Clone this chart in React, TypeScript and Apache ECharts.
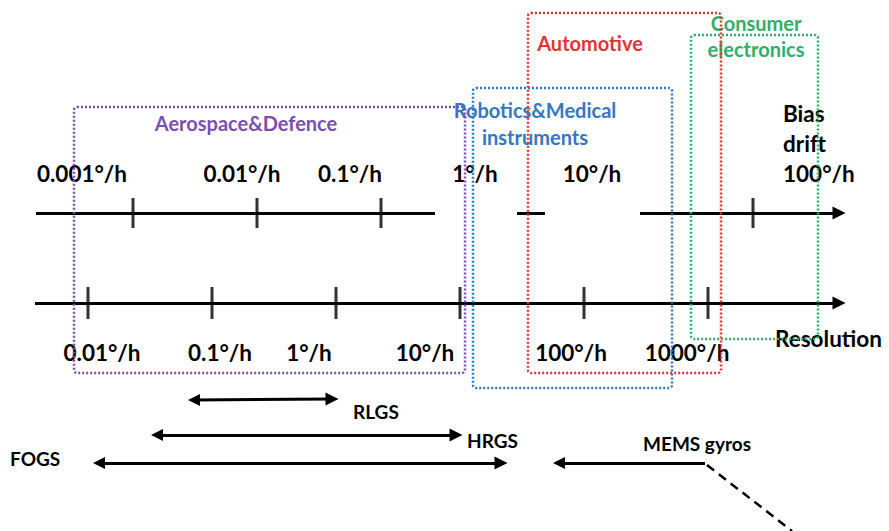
import React, { useEffect, useRef } from "react";
import * as echarts from "echarts";

// ---- data ----
const biasDriftTicks = [0.001, 0.01, 0.1, 100];
const biasDriftLabels = ["0.001°/h", "0.01°/h", "0.1°/h", "1°/h", "10°/h", "100°/h"];
const resolutionTicks = [0.01, 0.1, 1, 10, 100, 1000];
const resolutionLabels = ["0.01°/h", "0.1°/h", "1°/h", "10°/h", "100°/h", "1000°/h"];
const domainNames = ["Aerospace&Defence", "Robotics&Medical\ninstruments", "Automotive", "Consumer\nelectronics"];
const gyroTypes = ["RLGS", "HRGS", "FOGS", "MEMS gyros"];
const axisNames = ["Bias\ndrift", "Resolution"];

// ---- layout (diagram frame units) ----
const W = 889;
const H = 531;
const BIAS_Y = 213;
const RES_Y = 303;
const DECADE = 124;
const resMin = 0.01 * Math.pow(10, -88 / DECADE);
const resMax = 0.01 * Math.pow(10, (W - 88) / DECADE);
const biasMin = 0.001 * Math.pow(10, -133 / DECADE);
const biasMax = 0.001 * Math.pow(10, (W - 133) / DECADE);

const domainColors = ["#7a4fb0", "#3477c2", "#e33434", "#2faf67"];
const domainBoxes = [
  [74, 107, 465, 373],
  [473, 88, 672, 388],
  [528, 13, 721, 373],
  [691, 35, 818, 339],
];

const AXIS_FONT = "bold 22.5px Lato";
const DOMAIN_FONT = "bold 20px Lato";
const GYRO_FONT = "bold 19px Lato";
const INK = "#000";

type T = { text: string; x: number; y: number; align: string; color: string; font: string; lh?: number };

const texts: T[] = [
  ...biasDriftLabels.map((s, i) => ({
    text: s,
    x: [82, 242, 350, 475, 592, 783][i],
    y: 173,
    align: i === 5 ? "left" : "center",
    color: INK,
    font: AXIS_FONT,
  })),
  { text: axisNames[0], x: 783, y: 128, align: "left", color: INK, font: AXIS_FONT, lh: 30 },
  ...resolutionLabels.map((s, i) => ({
    text: s,
    x: [102, 220, 309, 425, 571, 687][i],
    y: 352,
    align: "center",
    color: INK,
    font: AXIS_FONT,
  })),
  { text: axisNames[1], x: 775, y: 338, align: "left", color: INK, font: AXIS_FONT },
  { text: domainNames[0], x: 246, y: 123, align: "center", color: domainColors[0], font: DOMAIN_FONT },
  { text: domainNames[1], x: 535, y: 123, align: "center", color: domainColors[1], font: DOMAIN_FONT, lh: 27 },
  { text: domainNames[2], x: 590, y: 43, align: "center", color: domainColors[2], font: DOMAIN_FONT },
  { text: domainNames[3], x: 756, y: 36, align: "center", color: domainColors[3], font: DOMAIN_FONT, lh: 26 },
  { text: gyroTypes[0], x: 353, y: 411, align: "left", color: INK, font: GYRO_FONT },
  { text: gyroTypes[1], x: 467, y: 440, align: "left", color: INK, font: GYRO_FONT },
  { text: gyroTypes[2], x: 10, y: 458, align: "left", color: INK, font: GYRO_FONT },
  { text: gyroTypes[3], x: 643, y: 443, align: "left", color: INK, font: GYRO_FONT },
];

const App: React.FC = () => {
  const ref = useRef<HTMLDivElement>(null);
  useEffect(() => {
    if (!ref.current) return;
    const chart = echarts.init(ref.current, null, { renderer: "svg" });
    const black = "#000";
    const lineW = 3;
    const option: any = {
      animation: false,
      backgroundColor: "#fff",
      grid: { left: 0, top: 0, right: 0, bottom: 0 },
      xAxis: [
        { type: "value", min: 0, max: W, show: false },
        { type: "log", min: resMin, max: resMax, show: false },
        { type: "log", min: biasMin, max: biasMax, show: false },
      ],
      yAxis: { type: "value", min: 0, max: H, inverse: true, show: false },
      series: [
        {
          type: "lines",
          coordinateSystem: "cartesian2d",
          xAxisIndex: 0,
          symbol: "none",
          lineStyle: { color: black, width: lineW, opacity: 1 },
          data: [
            { coords: [[36, BIAS_Y], [435, BIAS_Y]] },
            { coords: [[517, BIAS_Y], [545, BIAS_Y]] },
          ],
          z: 3,
        },
        {
          type: "lines",
          coordinateSystem: "cartesian2d",
          xAxisIndex: 0,
          symbol: ["none", "triangle"],
          symbolSize: [12, 13],
          lineStyle: { color: black, width: lineW, opacity: 1 },
          data: [
            { coords: [[640, BIAS_Y], [839, BIAS_Y]] },
            { coords: [[35, RES_Y], [839, RES_Y]] },
          ],
          z: 3,
        },
        {
          type: "scatter",
          xAxisIndex: 2,
          symbol: "rect",
          symbolSize: [3, 30],
          itemStyle: { color: black },
          data: biasDriftTicks.map((v) => [v, BIAS_Y]),
          z: 3,
        },
        {
          type: "scatter",
          xAxisIndex: 1,
          symbol: "rect",
          symbolSize: [3, 32],
          itemStyle: { color: black },
          data: resolutionTicks.map((v) => [v, RES_Y]),
          z: 3,
        },
        {
          type: "lines",
          coordinateSystem: "cartesian2d",
          xAxisIndex: 0,
          symbol: ["triangle", "triangle"],
          symbolSize: [12, 13],
          lineStyle: { color: black, width: lineW, opacity: 1 },
          data: [
            { coords: [[194, 400], [332, 399]] },
            { coords: [[157, 435], [456, 435]] },
            { coords: [[99, 463], [501, 463]] },
          ],
          z: 3,
        },
        {
          type: "lines",
          coordinateSystem: "cartesian2d",
          xAxisIndex: 0,
          symbol: ["triangle", "none"],
          symbolSize: [12, 13],
          lineStyle: { color: black, width: lineW, opacity: 1 },
          data: [{ coords: [[559, 463], [705, 463]] }],
          z: 3,
        },
        {
          type: "lines",
          coordinateSystem: "cartesian2d",
          xAxisIndex: 0,
          symbol: "none",
          lineStyle: { color: black, width: 2.5, opacity: 1, type: [9, 6] },
          data: [{ coords: [[707, 465], [792, 531]] }],
          z: 3,
        },
        {
          type: "custom",
          xAxisIndex: 0,
          data: texts.map((t) => [t.x, t.y]),
          renderItem: (params: any, api: any) => {
            const t = texts[params.dataIndex];
            const p = api.coord([t.x, t.y]);
            return {
              type: "text",
              x: p[0],
              y: p[1],
              style: {
                text: t.text,
                fill: t.color,
                font: t.font,
                align: t.align,
                verticalAlign: "middle",
                lineHeight: t.lh,
              },
            };
          },
          z: 4,
        },
        {
          type: "custom",
          xAxisIndex: 0,
          data: domainBoxes,
          renderItem: (params: any, api: any) => {
            const p0 = api.coord([api.value(0), api.value(1)]);
            const p1 = api.coord([api.value(2), api.value(3)]);
            return {
              type: "rect",
              shape: { x: p0[0], y: p0[1], width: p1[0] - p0[0], height: p1[1] - p0[1], r: 3 },
              style: {
                fill: "none",
                stroke: domainColors[params.dataIndex],
                lineWidth: 2.5,
                lineDash: [2, 2],
              },
            };
          },
          z: 5,
        },
      ],
    };
    chart.setOption(option);
    return () => chart.dispose();
  }, []);
  return (
    <div
      ref={ref}
      style={{ position: "fixed", left: 0, top: 0, width: W, height: H, background: "#fff" }}
    />
  );
};

export default App;
